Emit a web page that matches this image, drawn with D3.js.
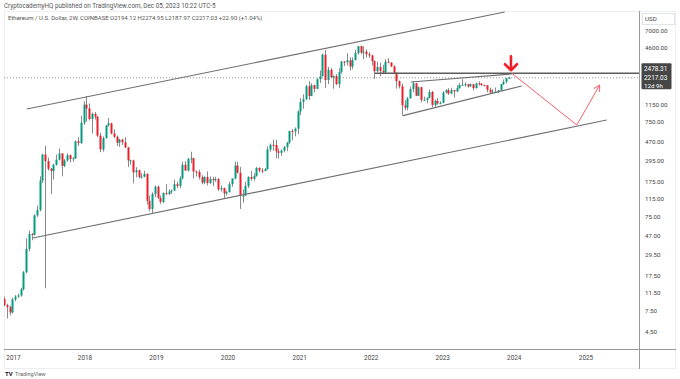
<!DOCTYPE html>
<html>
<head>
<meta charset="utf-8">
<style>
  body { margin: 0; background: #fff; }
  svg text { font-family: Roboto, "Liberation Sans", sans-serif; }
</style>
</head>
<body>
<div id="viz"></div>
<script src="https://cdnjs.cloudflare.com/ajax/libs/d3/7.8.5/d3.min.js"></script>
<script>
// ETH/USD 2W candles, Coinbase. first bar 14 Nov 2016, one bar every 14 days
var firstBar = "2016-11-14";
var firstOpen = 10.0;
var closes = [8.6,8.2,7.2,9.9,10.6,10.9,12.7,19.2,34,49,48,77,88,180,340,290,240,228,265,300,
  350,258,295,335,305,310,470,450,740,1150,1050,810,920,860,540,385,510,690,730,570,
  525,455,490,460,405,295,295,220,232,197,198,212,110,90,130,155,118,107,133,130,
  138,141,165,158,190,265,230,305,310,225,222,196,172,197,170,187,182,187,145,150,
  132,136,165,190,260,218,124,125,158,197,188,202,245,230,228,238,385,432,430,368,
  355,375,408,455,605,600,640,975,1230,1310,1800,1420,1850,1690,2140,2300,3900,2100,2700,2240,
  2320,1900,2560,3300,3230,3400,2920,3410,4050,4800,4100,4200,3950,3830,3330,2600,2880,2620,2520,3280,
  3210,2920,2510,2040,1800,1130,1070,1340,1680,1940,1430,1760,1290,1295,1360,1570,1140,1260,1185,1200,
  1550,1640,1510,1640,1590,1720,1860,1870,1900,1800,1890,1720,1940,1920,1860,1845,1655,1550,1580,1580,
  1630,1895,2010,2194.12,2217.03];
var highs = [10.6,8.9,8.5,10.3,11.0,11.4,13.2,19.8,44,53,50,79,98,200,345,420,315,245,270,340,
  395,350,305,350,340,320,480,520,880,1250,1420,1185,950,960,870,580,530,700,830,740,
  630,540,500,500,520,410,300,300,250,235,215,230,215,125,135,160,160,125,135,165,
  145,145,185,175,200,285,290,315,365,315,230,235,205,200,225,200,198,198,192,160,
  152,140,175,190,288,285,252,145,175,200,228,215,252,250,245,245,415,445,490,488,
  395,385,420,465,610,635,660,1000,1350,1480,1870,2040,1940,1880,2200,2650,4000,4380,2900,2800,
  2350,2420,2800,3330,3350,4030,3650,3650,4380,4820,4870,4780,4420,4150,3900,3400,3280,3200,3050,3480,
  3580,3250,3020,2520,2080,1920,1280,1390,1790,2030,1960,1790,1790,1400,1370,1670,1610,1300,1350,1250,
  1600,1680,1720,1740,1650,1850,1950,2140,1990,1910,1930,1900,1960,2030,1940,1870,1850,1740,1680,1750,
  1640,1910,2130,2200,2274.95];
var lows = [8.4,6.2,6.7,7.0,9.5,10.3,10.6,12.3,18.8,32,42,47,74,85,170,13,230,130,185,260,
  295,200,250,285,280,285,305,420,440,700,760,780,570,800,520,360,365,500,670,555,
  510,420,410,430,400,250,265,168,195,190,190,195,100,85,81,120,115,102,104,126,
  126,130,140,150,150,185,230,225,275,190,200,185,165,165,160,165,157,175,140,138,
  117,125,135,155,185,215,90,105,124,150,180,180,198,220,215,226,235,365,375,310,
  310,330,360,370,440,480,530,560,890,1040,1300,1290,1420,1550,1680,1950,2300,1730,1900,2200,
  1700,1850,1720,2450,2950,3000,2650,2740,3400,3900,3950,3500,3650,3600,3000,2160,2550,2300,2450,2500,
  3170,2880,2500,1700,1710,880,1000,1000,1340,1560,1420,1420,1220,1270,1190,1340,1080,1080,1150,1160,
  1190,1510,1460,1490,1370,1560,1700,1840,1780,1740,1780,1630,1710,1830,1820,1790,1550,1540,1530,1570,
  1520,1620,1860,1930,2187.97];

var priceTicks = [7000, 4600, 1150, 750, 470, 295, 175, 115, 75, 47, 29.5, 17.5, 11.5, 7.5, 4.5];
var yearTicks = [2017, 2018, 2019, 2020, 2021, 2022, 2023, 2024, 2025];

var levelPrice = 2478.31;
var lastPrice = 2217.03;
var countdown = "12d 9h";

// drawings: [date, price]
var upperChannel = [["2017-03-10", 1035], ["2023-11-13", 11050]];
var lowerChannel = [["2017-04-10", 44.3], ["2025-04-17", 790]];
var wedgeTop = [["2022-07-22", 2000], ["2023-12-19", 2432]];
var wedgeBottom = [["2022-06-12", 880], ["2024-02-08", 1815]];
var levelStart = "2022-01-19";
var projection = [["2023-12-19", 2478], ["2024-11-15", 700], ["2025-03-12", 1859]];
var arrowDate = "2023-12-15";

var W = 680, H = 379;
var plotL = 4, plotR = 639, plotT = 11, plotB = 349;

var parse = d3.utcParse("%Y-%m-%d");
var start = parse(firstBar);
var bars = closes.map(function(c, i) {
  return {
    date: d3.utcDay.offset(start, i * 14),
    open: i === 0 ? firstOpen : closes[i - 1],
    high: highs[i], low: lows[i], close: c
  };
});

var svg = d3.select("#viz").append("svg")
  .attr("width", W).attr("height", H);

var x = d3.scaleUtc()
  .domain([Date.UTC(2017, 0, 1), Date.UTC(2025, 0, 1)])
  .range([13.5, 586]);
var y = d3.scaleLog()
  .domain([4.5, 7000])
  .range([331.7, 30.7]);

// header
svg.append("text").attr("x", 4).attr("y", 8)
  .attr("font-size", 6.3).attr("fill", "#555")
  .text("CryptocademyHQ published on TradingView.com, Dec 05, 2023 10:22 UTC-5");

svg.append("rect").attr("x", 4.5).attr("y", 11.5)
  .attr("width", 671).attr("height", 357)
  .attr("fill", "none").attr("stroke", "#eceef2");

svg.append("text").attr("x", 8).attr("y", 20)
  .attr("font-size", 6).attr("fill", "#555")
  .text("Ethereum / U.S. Dollar, 2W, COINBASE  O2194.12  H2274.95  L2187.97  C2217.03  +22.90 (+1.04%)");

svg.append("clipPath").attr("id", "plot")
  .append("rect").attr("x", plotL).attr("y", plotT)
  .attr("width", plotR - plotL).attr("height", plotB - plotT);

var g = svg.append("g").attr("clip-path", "url(#plot)");

// last price dotted line
g.append("line")
  .attr("x1", plotL).attr("x2", plotR)
  .attr("y1", y(lastPrice)).attr("y2", y(lastPrice))
  .attr("stroke", "#9598a1").attr("stroke-dasharray", "1,2");

// candles
var bw = 2;
g.selectAll(".wick").data(bars).enter().append("line")
  .attr("x1", function(d) { return Math.round(x(d.date)) + 0.5; })
  .attr("x2", function(d) { return Math.round(x(d.date)) + 0.5; })
  .attr("y1", function(d) { return y(d.high); })
  .attr("y2", function(d) { return y(d.low); })
  .attr("stroke", "#8a8a8a").attr("stroke-width", 1);

g.selectAll(".body").data(bars).enter().append("rect")
  .attr("x", function(d) { return Math.round(x(d.date)) + 0.5 - bw / 2; })
  .attr("width", bw)
  .attr("y", function(d) { return y(Math.max(d.open, d.close)); })
  .attr("height", function(d) { return Math.max(1, Math.abs(y(d.open) - y(d.close))); })
  .attr("fill", function(d) { return d.close >= d.open ? "#089981" : "#e8202c"; });

// trend lines
function seg(pts, color, w) {
  g.append("path")
    .attr("d", d3.line()
      .x(function(p) { return x(parse(p[0])); })
      .y(function(p) { return y(p[1]); })(pts))
    .attr("fill", "none").attr("stroke", color).attr("stroke-width", w);
}
seg(upperChannel, "#6f6f6f", 1.1);
seg(lowerChannel, "#6f6f6f", 1.1);
seg(wedgeTop, "#6f6f6f", 1.1);
seg(wedgeBottom, "#6f6f6f", 1.1);

g.append("line")
  .attr("x1", x(parse(levelStart))).attr("x2", plotR)
  .attr("y1", y(levelPrice)).attr("y2", y(levelPrice))
  .attr("stroke", "#5d5d5d").attr("stroke-width", 1.6);

// projected path with arrow head
seg(projection, "#f4606b", 1);
var pEnd = projection[projection.length - 1], pPrev = projection[projection.length - 2];
var ex = x(parse(pEnd[0])), ey = y(pEnd[1]);
var ang = Math.atan2(ey - y(pPrev[1]), ex - x(parse(pPrev[0])));
var hl = 7;
g.append("path")
  .attr("d", "M" + (ex - hl * Math.cos(ang - 0.5)) + "," + (ey - hl * Math.sin(ang - 0.5)) +
    "L" + ex + "," + ey +
    "L" + (ex - hl * Math.cos(ang + 0.5)) + "," + (ey - hl * Math.sin(ang + 0.5)))
  .attr("fill", "none").attr("stroke", "#f4606b").attr("stroke-width", 1);

// red down arrow
var ax = x(parse(arrowDate)), ay = y(levelPrice) - 3;
g.append("path")
  .attr("d", "M" + ax + "," + (ay - 14) + "L" + ax + "," + ay +
    "M" + (ax - 6) + "," + (ay - 6) + "L" + ax + "," + ay + "L" + (ax + 6) + "," + (ay - 6))
  .attr("fill", "none").attr("stroke", "#f01e28").attr("stroke-width", 2.6)
  .attr("stroke-linecap", "round").attr("stroke-linejoin", "round");

// axes separators
svg.append("line").attr("x1", plotR + 0.5).attr("x2", plotR + 0.5)
  .attr("y1", plotT).attr("y2", 369).attr("stroke", "#9a9a9a");
svg.append("line").attr("x1", plotL).attr("x2", 676)
  .attr("y1", plotB + 0.5).attr("y2", plotB + 0.5).attr("stroke", "#9a9a9a");

// price axis
var yAxis = svg.append("g");
yAxis.selectAll("text").data(priceTicks).enter().append("text")
  .attr("x", 645).attr("y", function(d) { return y(d) + 2.2; })
  .attr("font-size", 6.2).attr("fill", "#444")
  .text(function(d) { return d.toFixed(2); });

svg.append("rect").attr("x", 642.5).attr("y", 13.5).attr("width", 32).attr("height", 11)
  .attr("fill", "#fff").attr("stroke", "#e0e3eb");
svg.append("text").attr("x", 645).attr("y", 21).attr("font-size", 6.2).attr("fill", "#444").text("USD");

var yl = y(lastPrice);
svg.append("rect").attr("x", 641.5).attr("y", yl - 14.5).attr("width", 30).attr("height", 26)
  .attr("fill", "#464646").attr("rx", 1);
svg.append("text").attr("x", 644).attr("y", yl - 7.2).attr("font-size", 6.4)
  .attr("fill", "#fff").text(levelPrice.toFixed(2));
svg.append("text").attr("x", 644).attr("y", yl + 2.2).attr("font-size", 6.4)
  .attr("fill", "#fff").text(lastPrice.toFixed(2));
svg.append("text").attr("x", 644).attr("y", yl + 10.5).attr("font-size", 6.2)
  .attr("fill", "#fff").text(countdown);

// time axis
svg.append("g").selectAll("text").data(yearTicks).enter().append("text")
  .attr("x", function(d) { return x(Date.UTC(d, 0, 1)); })
  .attr("y", 360).attr("text-anchor", "middle")
  .attr("font-size", 6.4).attr("fill", "#444")
  .text(function(d) { return d; });

// footer logo
svg.append("text").attr("x", 5).attr("y", 376)
  .attr("font-size", 6).attr("font-weight", "bold").attr("fill", "#131722").text("TV");
svg.append("text").attr("x", 15).attr("y", 376)
  .attr("font-size", 5.6).attr("fill", "#666").text("TradingView");
</script>
</body>
</html>
